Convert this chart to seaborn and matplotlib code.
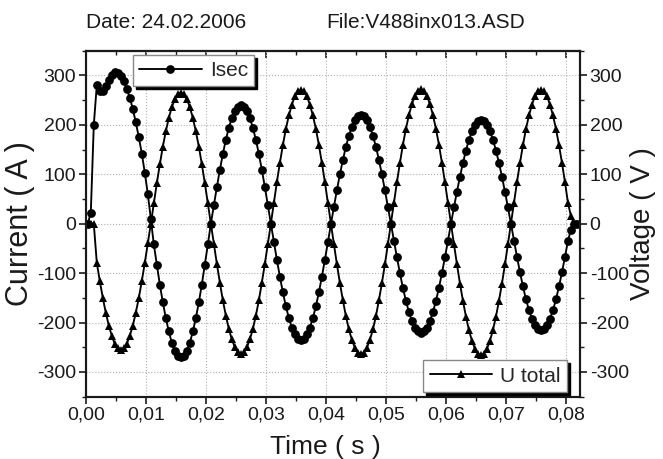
import numpy as np
import pandas as pd
import matplotlib
matplotlib.use("Agg")
import matplotlib.pyplot as plt
import seaborn as sns
from matplotlib.ticker import MultipleLocator, FuncFormatter

# Sampling of the recorder (2 kHz, first sample at 0.3 ms)
t_start = 0.0003
t_step = 0.0005

# Secondary current (A)
isec = [
    0,
    22, 200, 280, 268, 268, 278, 290, 300, 306, 305, 298, 288, 272, 255, 232, 205, 175, 142, 103, 60,
    10, -42, -83, -123, -159, -191, -218, -241, -257, -267, -270, -267, -257, -241, -218, -191, -159, -123, -83, -42,
    0, 37, 74, 109, 141, 170, 194, 214, 228, 237, 240, 237, 228, 214, 194, 170, 141, 109, 74, 37,
    0, -37, -73, -107, -139, -167, -191, -210, -224, -233, -236, -233, -224, -210, -191, -167, -139, -107, -73, -37,
    0, 34, 68, 100, 129, 156, 178, 196, 209, 217, 220, 217, 209, 196, 178, 156, 129, 100, 68, 34,
    0, -34, -68, -100, -130, -156, -179, -197, -210, -218, -221, -218, -210, -197, -179, -156, -130, -100, -68, -34,
    0, 33, 65, 95, 123, 148, 170, 187, 200, 207, 210, 207, 200, 187, 170, 148, 123, 95, 65, 33,
    0, -34, -67, -98, -127, -153, -175, -192, -205, -213, -216, -213, -205, -192, -175, -153, -127, -98, -67, -34,
    -12, 0, 0,
]

# Total voltage (V)
u_total = [
    0,
    0, 0, -79, -116, -150, -180, -206, -227, -243, -252, -255, -252, -243, -227, -206, -180, -150, -116, -79, -40,
    0, 41, 82, 120, 156, 187, 214, 236, 252, 262, 265, 262, 252, 236, 214, 187, 156, 120, 82, 41,
    0, -41, -81, -119, -155, -186, -213, -234, -250, -260, -263, -260, -250, -234, -213, -186, -155, -119, -81, -41,
    0, 42, 84, 123, 159, 192, 219, 241, 258, 268, 271, 268, 258, 241, 219, 192, 159, 123, 84, 42,
    0, -41, -82, -120, -155, -187, -214, -235, -251, -261, -264, -261, -251, -235, -214, -187, -155, -120, -82, -41,
    0, 42, 84, 123, 160, 192, 220, 242, 259, 269, 272, 269, 259, 242, 220, 192, 160, 123, 84, 42,
    0, -41, -82, -121, -156, -188, -215, -237, -253, -263, -266, -263, -253, -237, -215, -188, -156, -121, -82, -41,
    0, 42, 84, 123, 159, 192, 219, 241, 258, 268, 271, 268, 258, 241, 219, 192, 159, 123, 84, 42,
    15, 0, 0,
]

time = t_start + t_step * np.arange(len(isec))
df = pd.DataFrame({"Time": time, "Isec": isec, "U total": u_total})

sns.set_theme(style="ticks")
plt.rcParams['font.family'] = ['Liberation Sans', 'DejaVu Sans']
plt.rcParams['axes.unicode_minus'] = False
ink = '#1a1a1a'

fig = plt.figure(figsize=(6.63, 4.59), dpi=100)
ax = fig.add_axes([0.1297, 0.1357, 0.7451, 0.7538])
ax2 = ax.twinx()

sns.lineplot(data=df, x="Time", y="Isec", ax=ax, color="black", marker="o",
             markersize=6.3, markeredgewidth=0, linewidth=1.35, sort=False, legend=False)
sns.lineplot(data=df, x="Time", y="U total", ax=ax2, color="black", marker="^",
             markersize=6.3, markeredgewidth=0, linewidth=1.35, sort=False, legend=False)

ax.set_xlim(0, 0.0823)
ax.set_ylim(-350, 350)
ax2.set_ylim(-350, 350)

ax.xaxis.set_major_locator(MultipleLocator(0.01))
ax.xaxis.set_minor_locator(MultipleLocator(0.005))
ax.xaxis.set_major_formatter(FuncFormatter(lambda v, p: f"{v:.2f}".replace('.', ',')))
for a in (ax, ax2):
    a.yaxis.set_major_locator(MultipleLocator(100))
    a.yaxis.set_minor_locator(MultipleLocator(50))
    a.yaxis.set_major_formatter(FuncFormatter(lambda v, p: f"{v:.0f}"))
    for s in a.spines.values():
        s.set_linewidth(1.5)
        s.set_color(ink)

ax.grid(True, which='major', linestyle=':', color='#b0b0b0', linewidth=0.8)
ax.tick_params(axis='both', which='major', direction='out', length=5, width=1.2,
               labelsize=14, colors=ink, pad=2)
ax.tick_params(axis='both', which='minor', direction='out', length=3, width=1.0, colors=ink)
ax2.tick_params(axis='y', which='major', direction='out', length=5, width=1.2,
                labelsize=14, colors=ink, pad=2)
ax2.tick_params(axis='y', which='minor', direction='out', length=3, width=1.0, colors=ink)

top = ax.secondary_xaxis('top')
top.xaxis.set_major_locator(MultipleLocator(0.01))
top.xaxis.set_minor_locator(MultipleLocator(0.005))
top.tick_params(which='major', direction='in', length=5, width=1.2, labeltop=False, colors=ink)
top.tick_params(which='minor', direction='in', length=3, width=1.0, colors=ink)
top.spines['top'].set_linewidth(1.5)

ax.set_xlabel("Time ( s )", fontsize=19, color=ink)
ax.xaxis.set_label_coords(0.484, -0.11)
ax.set_ylabel("Current ( A )", fontsize=22, color=ink)
ax.yaxis.set_label_coords(-0.103, 0.5)
ax2.set_ylabel("Voltage ( V )", fontsize=20, color=ink)
ax2.yaxis.set_label_coords(1.101, 0.5)

# Origin-style legends with black drop shadow
h_i = ax.get_lines()[0]
h_u = ax2.get_lines()[0]
leg_kw = dict(frameon=True, fancybox=False, framealpha=1, edgecolor='#888888',
              shadow={'color': 'black', 'alpha': 1}, fontsize=15, handlelength=3.0,
              handletextpad=0.4, borderpad=0.3, borderaxespad=0, numpoints=1)
leg1 = ax2.legend([h_i], ["Isec"], loc='upper left', bbox_to_anchor=(0.095, 0.988), **leg_kw)
ax2.add_artist(leg1)
ax2.legend([h_u], ["U total"], loc='lower right', bbox_to_anchor=(0.974, 0.014), **leg_kw)

fig.text(86 / 663, 0.939, "Date: 24.02.2006", fontsize=15, color=ink, va='baseline')
fig.text(326 / 663, 0.939, "File:V488inx013.ASD", fontsize=15, color=ink, va='baseline')

fig.savefig("out.png", dpi=100)
